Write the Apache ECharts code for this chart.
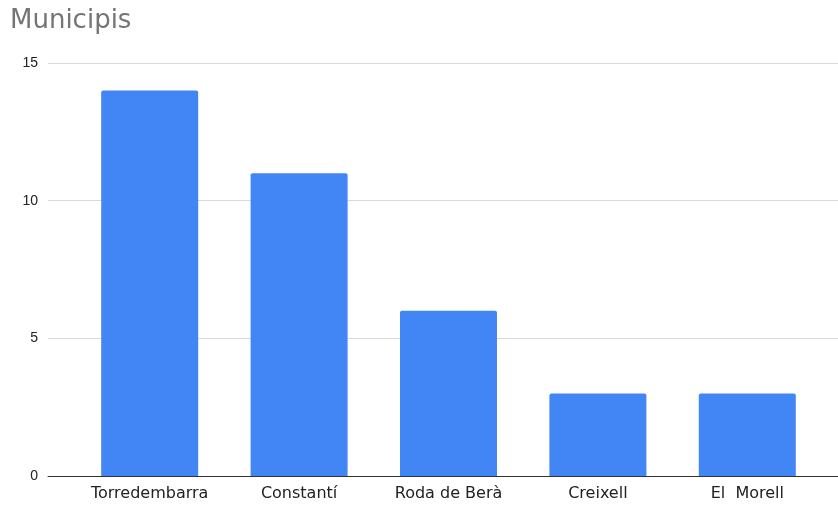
<!DOCTYPE html>
<html>
<head>
<meta charset="utf-8">
<script src="https://cdn.jsdelivr.net/npm/echarts@6/dist/echarts.min.js"></script>
<style>html,body{margin:0;padding:0;background:#fff}#c{width:838px;height:506px}</style>
</head>
<body>
<div id="c"></div>
<script>
var categories = ['Torredembarra', 'Constantí', 'Roda de Berà', 'Creixell', 'El  Morell'];
var values = [14, 11, 6, 3, 3];
var yTicks = [0, 5, 10, 15];

var chart = echarts.init(document.getElementById('c'));
var font = 'Liberation Sans, Arial, sans-serif';
var wide = 'DejaVu Sans, sans-serif';
chart.setOption({
  animation: false,
  title: {
    text: 'Municipis', left: 5, top: 3,
    textStyle: {fontFamily: wide, fontSize: 26, fontWeight: 'normal', color: '#757575'}
  },
  grid: [
    {left: 48, right: 0, top: 63, bottom: 30},
    {left: 75, right: 16, top: 63, bottom: 30}
  ],
  xAxis: [
    {gridIndex: 0, type: 'value', min: 0, max: 1, show: true,
     axisLine: {show: true, lineStyle: {color: '#333', width: 1}},
     axisTick: {show: false}, axisLabel: {show: false}, splitLine: {show: false}},
    {gridIndex: 1, type: 'category', data: categories,
     axisLine: {show: false}, axisTick: {show: false},
     axisLabel: {interval: 0, hideOverlap: false, fontFamily: wide, fontSize: 16, color: '#222', margin: 10}}
  ],
  yAxis: [
    {gridIndex: 0, type: 'value', min: yTicks[0], max: yTicks[yTicks.length - 1], interval: 5,
     axisLine: {show: false}, axisTick: {show: false},
     axisLabel: {fontFamily: font, fontSize: 14, color: '#222', margin: 10},
     splitLine: {lineStyle: {color: '#d9d9d9', width: 1}}},
    {gridIndex: 1, type: 'value', min: yTicks[0], max: yTicks[yTicks.length - 1], interval: 5,
     show: false, splitLine: {show: false}}
  ],
  series: [{
    type: 'bar', xAxisIndex: 1, yAxisIndex: 1, data: values,
    barWidth: 97,
    itemStyle: {color: '#4285F4', borderRadius: [2, 2, 0, 0]}
  }]
});
</script>
</body>
</html>
